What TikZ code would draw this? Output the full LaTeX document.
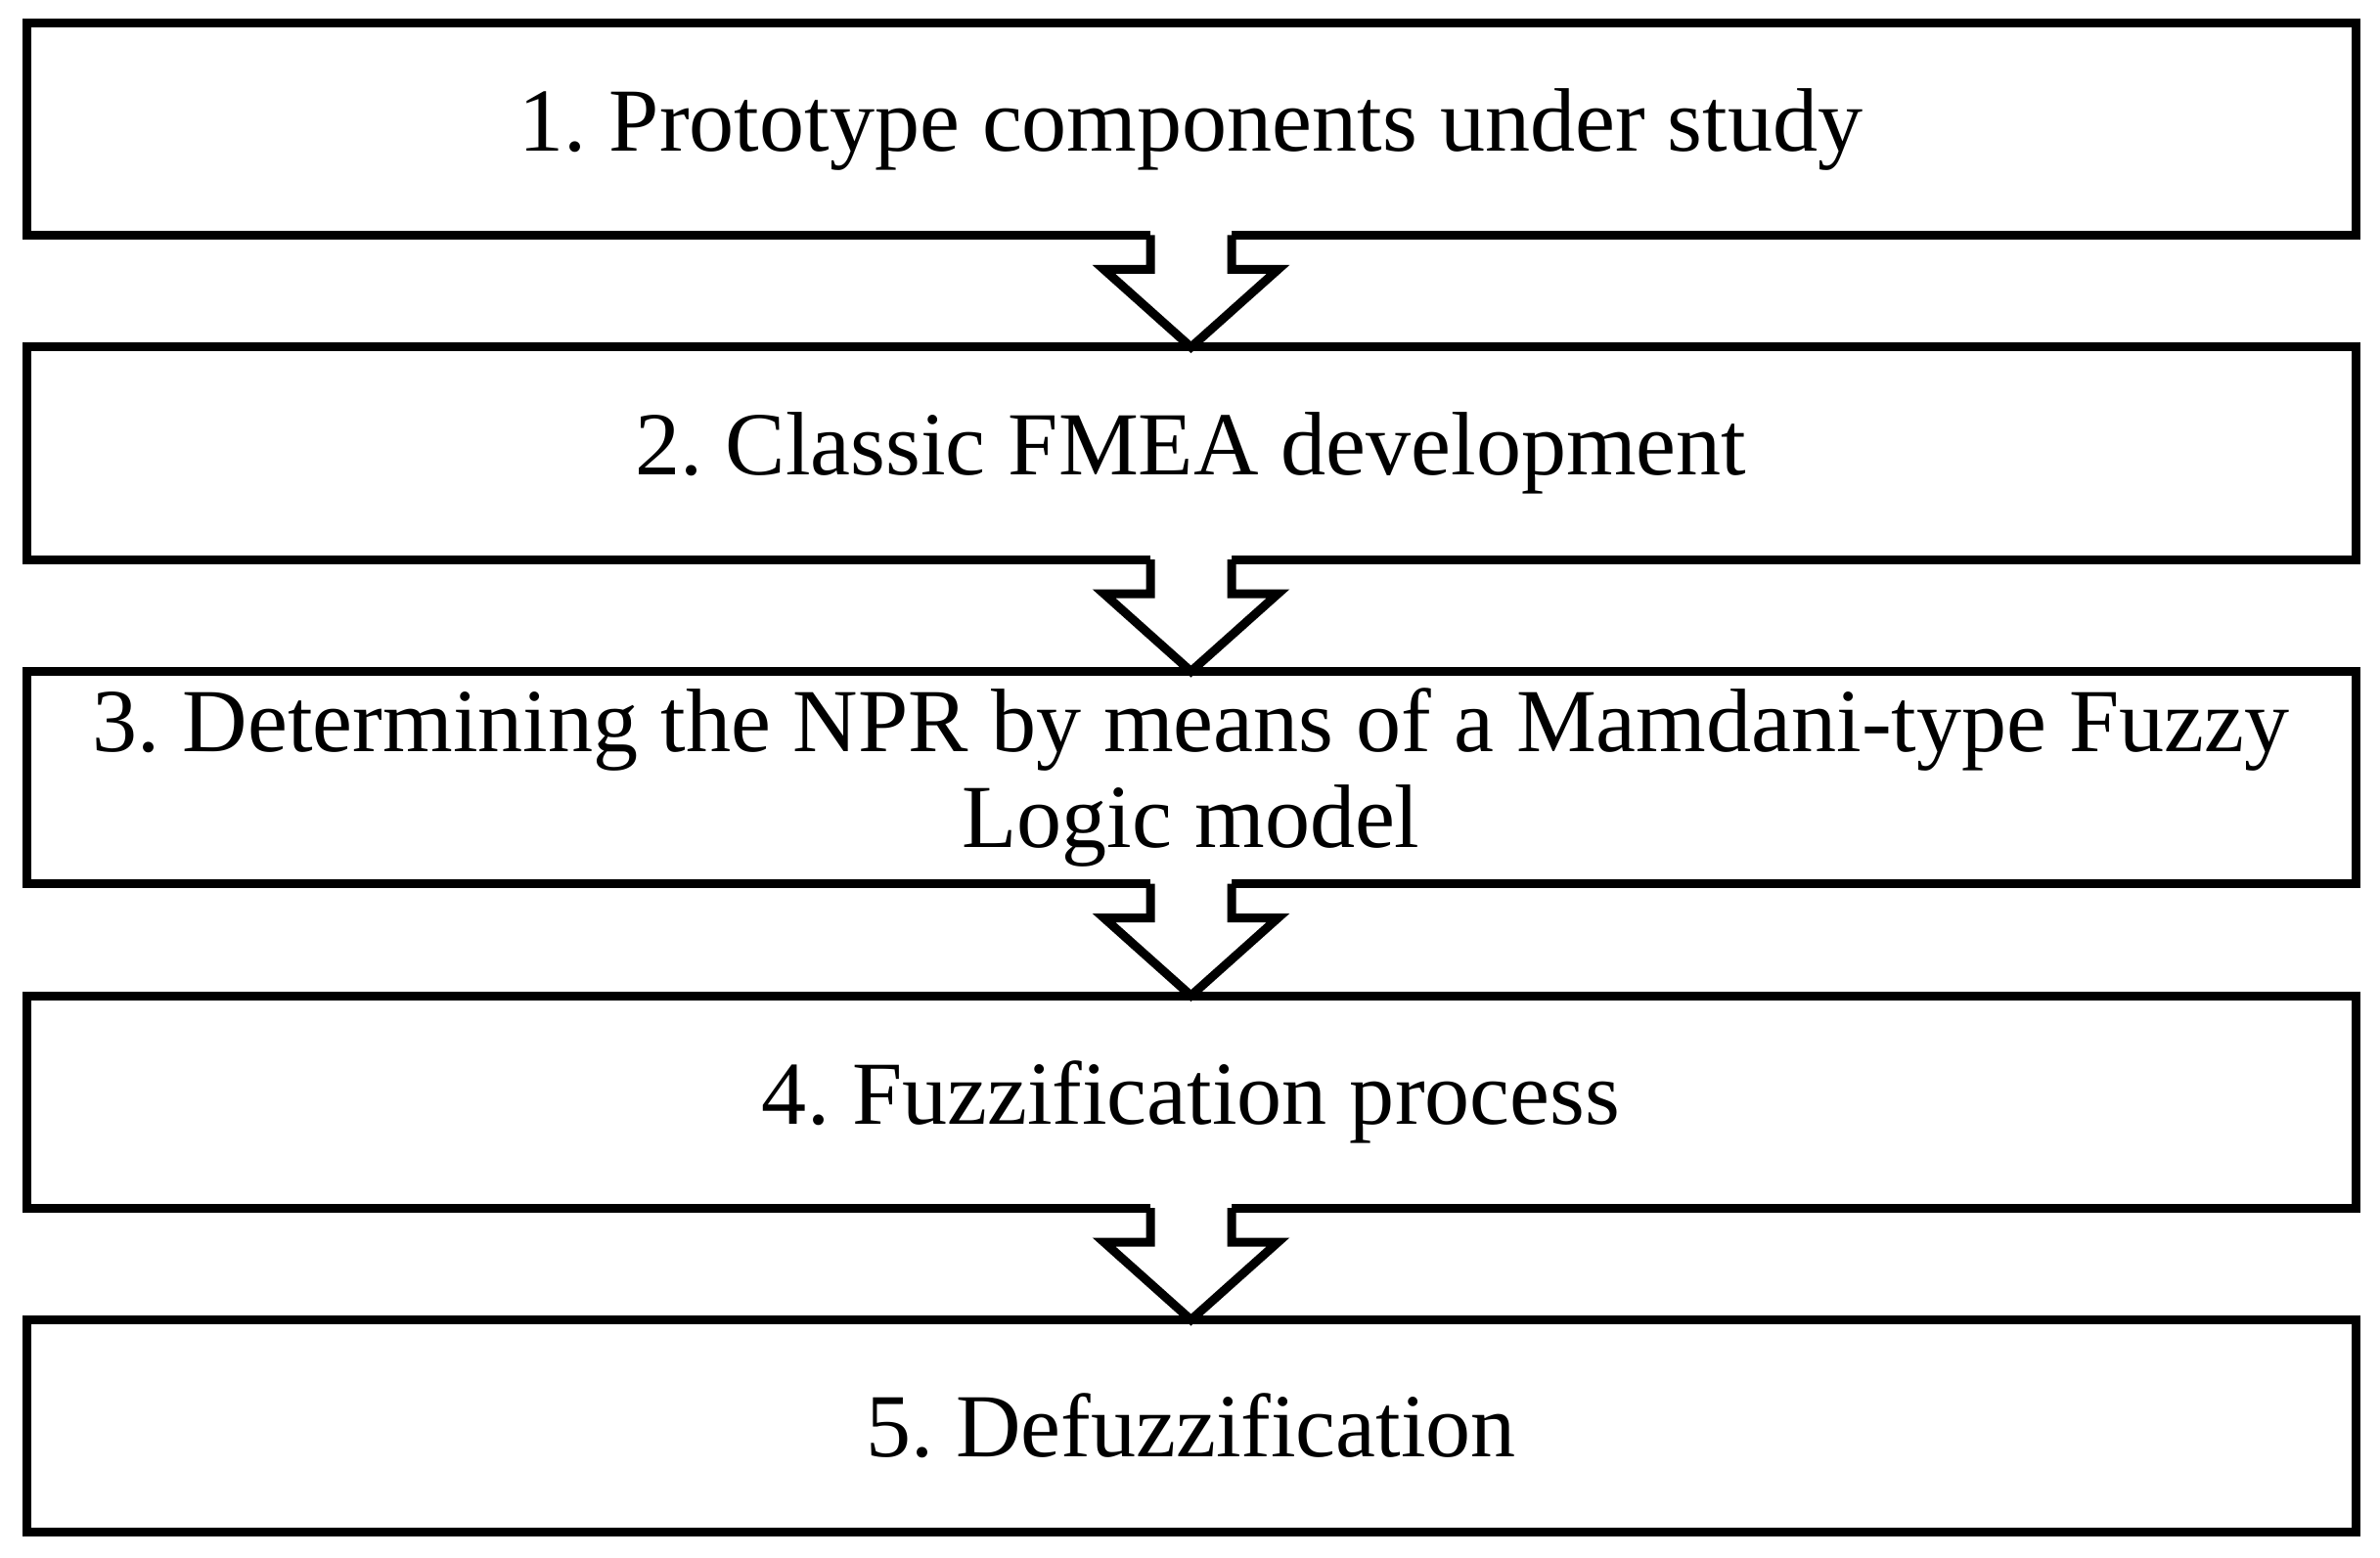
\documentclass[tikz,border=0pt]{standalone}
\usepackage{fontspec}
\setmainfont{Liberation Serif}
\frenchspacing
\usetikzlibrary{positioning,calc}

\tikzset{
    stage/.style={draw, line width=0.09cm, outer sep=0pt, minimum width=23.81cm,
        minimum height=2.17cm, align=center, font=\fontsize{26.2}{27.9}\selectfont},
    flow/.style={line width=0.09cm}
}

\begin{document}
\begin{tikzpicture}[node distance=1.145cm]
    \useasboundingbox (0,0) rectangle (24.33,15.92);
    \node[stage] (proto) at (12.175,14.60) {1. Prototype components under study};
    \node[stage] (fmea) [below=of proto] {2. Classic FMEA development};
    \node[stage] (npr) [below=of fmea] {3. Determining the NPR by means of a Mamdani-type Fuzzy\\Logic model};
    \node[stage] (fuzz) [below=of npr] {4. Fuzzification process};
    \node[stage] (defuzz) [below=of fuzz] {5. Defuzzification};

    % hollow block arrows between the stages
    \foreach \a/\b in {proto/fmea, fmea/npr, npr/fuzz, fuzz/defuzz} {
        \fill[white] ($(\a.south)+(-0.415,0.05)$) -- ($(\a.south)+(-0.415,-0.35)$)
            -- ($(\a.south)+(-0.89,-0.35)$) -- (\b.north) -- ($(\a.south)+(0.89,-0.35)$)
            -- ($(\a.south)+(0.415,-0.35)$) -- ($(\a.south)+(0.415,0.05)$) -- cycle;
        \draw[flow] ($(\a.south)+(-0.415,0)$) -- ($(\a.south)+(-0.415,-0.35)$)
            -- ($(\a.south)+(-0.89,-0.35)$) -- (\b.north) -- ($(\a.south)+(0.89,-0.35)$)
            -- ($(\a.south)+(0.415,-0.35)$) -- ($(\a.south)+(0.415,0)$);
    }
\end{tikzpicture}
\end{document}
